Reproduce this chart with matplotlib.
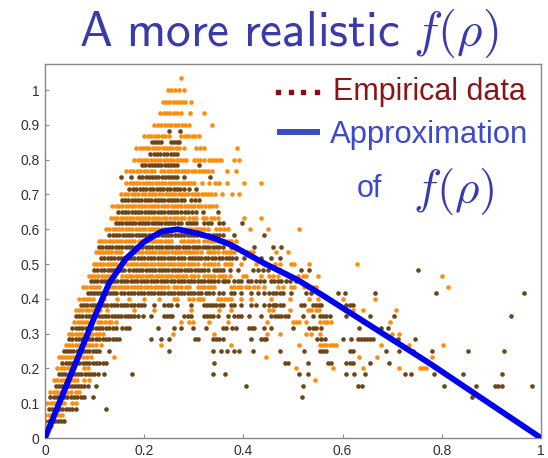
import numpy as np
import matplotlib
matplotlib.use("Agg")
import matplotlib.pyplot as plt
from matplotlib.lines import Line2D

plt.rcParams['mathtext.fontset'] = 'cm'
plt.rcParams['font.family'] = ['Liberation Sans', 'DejaVu Sans']

# ---------------- data ----------------
# Row levels: orange rows at y = k/30, brown rows at y = (k+0.5)/30
STEP = 1 / 150.0  # spacing of density samples inside a dense run

ORANGE_RUNS = {
    29: [(0.238, 0.283)],
    28: [(0.232, 0.267)],
    27: [(0.22, 0.29)],
    26: [(0.2, 0.25), (0.275, 0.31)],
    25: [(0.184, 0.27), (0.305, 0.32)],
    24: [(0.18, 0.285), (0.3, 0.32), (0.33, 0.355)],
    23: [(0.164, 0.22), (0.234, 0.31), (0.317, 0.328)],
    22: [(0.164, 0.295)],
    21: [(0.154, 0.25), (0.256, 0.342)],
    20: [(0.136, 0.308), (0.315, 0.345)],
    19: [(0.133, 0.23), (0.237, 0.26), (0.267, 0.281), (0.291, 0.304), (0.318, 0.325), (0.335, 0.348)],
    18: [(0.123, 0.328), (0.345, 0.368)],
    17: [(0.109, 0.18), (0.19, 0.254), (0.274, 0.308), (0.321, 0.348), (0.358, 0.375)],
    16: [(0.102, 0.153), (0.183, 0.314), (0.328, 0.348), (0.358, 0.382), (0.402, 0.419)],
    15: [(0.099, 0.143), (0.166, 0.308), (0.321, 0.348), (0.362, 0.375)],
    14: [(0.089, 0.133), (0.156, 0.284), (0.294, 0.308), (0.321, 0.341), (0.351, 0.362)],
    13: [(0.077, 0.109), (0.129, 0.247), (0.308, 0.341), (0.375, 0.395)],
    12: [(0.069, 0.096)],
    11: [(0.062, 0.096)],
    10: [(0.059, 0.092), (0.106, 0.129), (0.5, 0.513), (0.554, 0.577)],
    9: [(0.048, 0.109)],
    8: [(0.042, 0.102), (0.554, 0.587)],
    7: [(0.028, 0.065), (0.069, 0.092)],
    6: [(0.025, 0.059), (0.079, 0.086)],
    5: [(0.018, 0.052), (0.059, 0.065), (0.079, 0.089)],
    4: [(0.011, 0.045)],
    3: [(0.005, 0.038)],
    2: [(0.001, 0.035)],
    1: [(0.0, 0.012)],
}

ORANGE_DOTS = {
    31: [0.275],
    30: [0.248, 0.255, 0.263, 0.270, 0.281],
    29: [0.295],
    28: [0.275, 0.292, 0.32],
    27: [0.337],
    25: [0.28, 0.388],
    24: [0.382, 0.392],
    23: [0.336, 0.366, 0.386],
    22: [0.3, 0.317, 0.33, 0.343, 0.35, 0.366, 0.402, 0.436],
    21: [0.357, 0.378, 0.392],
    19: [0.402, 0.436],
    18: [0.414, 0.45, 0.513],
    17: [0.385],
    16: [0.465, 0.489],
    15: [0.395, 0.426, 0.442, 0.463, 0.473, 0.496, 0.503, 0.533, 0.629],
    14: [0.372, 0.399, 0.405, 0.436, 0.452, 0.459, 0.469, 0.49, 0.51, 0.52, 0.527, 0.55, 0.8],
    13: [0.261, 0.267, 0.274, 0.284, 0.291, 0.405, 0.412, 0.422, 0.429, 0.442, 0.47, 0.48,
         0.496, 0.503, 0.523, 0.53, 0.54, 0.547, 0.812],
    12: [0.116, 0.119, 0.146, 0.17, 0.2, 0.23, 0.261, 0.267, 0.291, 0.298, 0.308, 0.313, 0.318,
         0.348, 0.355, 0.362, 0.368, 0.375, 0.395, 0.415, 0.456, 0.493, 0.533, 0.55, 0.601, 0.665],
    11: [0.11, 0.125, 0.18, 0.22, 0.294, 0.351, 0.375, 0.4525, 0.46, 0.493, 0.53, 0.537, 0.547,
         0.553, 0.604, 0.621, 0.641, 0.708],
    10: [0.133, 0.143, 0.274, 0.291, 0.298, 0.331, 0.368, 0.448, 0.527, 0.641, 0.695],
    9: [0.116, 0.259, 0.34, 0.448, 0.473, 0.527, 0.537, 0.554, 0.7, 0.714],
    8: [0.113, 0.234, 0.375, 0.513, 0.677, 0.734, 0.803],
    7: [0.139, 0.446, 0.634, 0.669, 0.781],
    6: [0.506, 0.58, 0.641, 0.714, 0.757, 0.763, 0.768],
    5: [0.545],
    4: [0.052, 0.062, 0.069],
    3: [0.055, 0.062],
}

BROWN_RUNS = {
    25: [(0.216, 0.234), (0.254, 0.271)],
    24: [(0.212, 0.267)],
    23: [(0.196, 0.267)],
    22: [(0.19, 0.267)],
    21: [(0.17, 0.28)],
    20: [(0.155, 0.28), (0.295, 0.31)],
    19: [(0.148, 0.267), (0.274, 0.304)],
    18: [(0.143, 0.274), (0.287, 0.304), (0.321, 0.335), (0.351, 0.358)],
    17: [(0.13, 0.314), (0.331, 0.358)],
    16: [(0.109, 0.358), (0.375, 0.385)],
    15: [(0.113, 0.281), (0.291, 0.308), (0.315, 0.385)],
    14: [(0.099, 0.16), (0.17, 0.308), (0.315, 0.328), (0.341, 0.358)],
    13: [(0.092, 0.348), (0.358, 0.368), (0.382, 0.395), (0.426, 0.442), (0.455, 0.476)],
    12: [(0.086, 0.143), (0.153, 0.254), (0.261, 0.294), (0.301, 0.314), (0.325, 0.338),
         (0.351, 0.358), (0.375, 0.382), (0.4525, 0.473)],
    11: [(0.072, 0.2), (0.24, 0.254), (0.321, 0.358), (0.4525, 0.48)],
    10: [(0.062, 0.187), (0.24, 0.257), (0.281, 0.294), (0.321, 0.338), (0.382, 0.395),
         (0.456, 0.49), (0.554, 0.574)],
    9: [(0.055, 0.143), (0.156, 0.17), (0.358, 0.365), (0.378, 0.385), (0.412, 0.422), (0.533, 0.547)],
    8: [(0.048, 0.15), (0.302, 0.308), (0.338, 0.358), (0.436, 0.446), (0.549, 0.564), (0.631, 0.661)],
    7: [(0.038, 0.109), (0.554, 0.567), (0.614, 0.621)],
    6: [(0.035, 0.123), (0.483, 0.49), (0.57, 0.577), (0.607, 0.621)],
    5: [(0.028, 0.106)],
    4: [(0.022, 0.086), (0.631, 0.64), (0.907, 0.921)],
    3: [(0.011, 0.079)],
    2: [(0.008, 0.062)],
    1: [(0.001, 0.038)],
    0: [(0.0, 0.005)],
}

BROWN_DOTS = {
    26: [0.25, 0.273],
    23: [0.31],
    22: [0.154, 0.174, 0.28, 0.333],
    21: [0.29, 0.305],
    19: [0.318, 0.348],
    18: [0.397],
    17: [0.382, 0.442],
    16: [0.422, 0.459, 0.476],
    15: [0.402, 0.436, 0.456, 0.473],
    14: [0.372, 0.389, 0.419, 0.429, 0.439, 0.449, 0.473, 0.516, 0.533, 0.752],
    13: [0.409, 0.415, 0.486, 0.493, 0.506],
    12: [0.395, 0.415, 0.429, 0.442, 0.48, 0.496, 0.527, 0.537, 0.553, 0.591, 0.604, 0.665, 0.789, 0.966],
    11: [0.22, 0.267, 0.294, 0.375, 0.382, 0.395, 0.415, 0.426, 0.442, 0.463, 0.516, 0.523, 0.54,
         0.547, 0.553, 0.557, 0.607, 0.614, 0.621],
    10: [0.197, 0.213, 0.348, 0.368, 0.412, 0.436, 0.52, 0.54, 0.607, 0.655, 0.703, 0.94],
    9: [0.227, 0.261, 0.274, 0.298, 0.325, 0.442, 0.456, 0.5, 0.557, 0.634, 0.678, 0.692],
    8: [0.213, 0.234, 0.25, 0.415, 0.601, 0.617, 0.712, 0.745],
    7: [0.129, 0.25, 0.338, 0.354, 0.366, 0.382, 0.392, 0.419, 0.473, 0.523, 0.688, 0.713, 0.741,
        0.781, 0.853, 0.926],
    6: [0.34, 0.53, 0.656, 0.693],
    5: [0.119, 0.176, 0.338, 0.362, 0.513, 0.531, 0.607, 0.623, 0.646, 0.725, 0.737, 0.784, 0.843, 0.922],
    4: [0.102, 0.405, 0.52, 0.805, 0.869, 0.981],
    3: [0.096, 0.518, 0.86],
    2: [0.123],
}

# Approximation curve f(rho)
CURVE_RHO = [0, 0.02, 0.042, 0.069, 0.099, 0.129, 0.163, 0.2, 0.234, 0.267, 0.308, 0.341,
             0.375, 0.409, 0.442, 0.51, 0.56, 0.776, 1.0]
CURVE_F = [0, 0.07, 0.147, 0.24, 0.345, 0.444, 0.515, 0.564, 0.593, 0.60, 0.588, 0.574,
           0.555, 0.528, 0.502, 0.454, 0.41, 0.214, 0]

X_TICKS = [0, 0.2, 0.4, 0.6, 0.8, 1]
X_LABELS = ['0', '0.2', '0.4', '0.6', '0.8', '1']
Y_TICKS = [0, 0.1, 0.2, 0.3, 0.4, 0.5, 0.6, 0.7, 0.8, 0.9, 1]
Y_LABELS = ['0', '0.1', '0.2', '0.3', '0.4', '0.5', '0.6', '0.7', '0.8', '0.9', '1']


def expand(runs, dots, offset):
    xs, ys = [], []
    for k, segs in runs.items():
        y = (k + offset) / 30.0
        for a, b in segs:
            n = max(1, int(round((b - a) / STEP)) + 1)
            xs.extend(np.linspace(a, b, n))
            ys.extend([y] * n)
    for k, pts in dots.items():
        y = (k + offset) / 30.0
        xs.extend(pts)
        ys.extend([y] * len(pts))
    return np.array(xs), np.array(ys)


ox, oy = expand(ORANGE_RUNS, ORANGE_DOTS, 0.0)
bx, by = expand(BROWN_RUNS, BROWN_DOTS, 0.5)

# ---------------- figure ----------------
W, H = 548, 458
fig = plt.figure(figsize=(W / 100, H / 100), dpi=100)
ax = fig.add_axes([45 / W, 20 / H, (541 - 45) / W, (438 - 64) / H])

ax.scatter(ox, oy, s=11, color='#ff8c0a', linewidths=0, zorder=2)
ax.scatter(bx, by, s=11, color='#6e4516', linewidths=0, zorder=2)
ax.plot(CURVE_RHO, CURVE_F, color='#0000f0', lw=4.2, solid_capstyle='butt', zorder=3)

ax.set_xlim(0, 1)
ax.set_ylim(0, 1.075)
ax.set_xticks(X_TICKS)
ax.set_xticklabels(X_LABELS)
ax.set_yticks(Y_TICKS)
ax.set_yticklabels(Y_LABELS)
ax.tick_params(direction='in', length=3, width=0.8, color='#888888', labelsize=10,
               labelcolor='#303030', pad=4)
for sp in ax.spines.values():
    sp.set_color('#888888')
    sp.set_linewidth(1.0)

# ---------------- title & legend overlay ----------------
fig.text(289 / W, 1 - 46 / H, r'$\mathsf{A\ more\ realistic}\ f(\rho)$', ha='center',
         va='baseline', fontsize=35.5, color='#3a3aaa')

for px in (278, 291, 303, 317):
    fig.lines.append(Line2D([px / W], [1 - 92 / H], transform=fig.transFigure, marker='s',
                            markersize=3.2, color='#8b0a1a', linestyle='none'))
fig.lines.append(Line2D([277 / W, 320 / W], [1 - 131.5 / H, 1 - 131.5 / H],
                        transform=fig.transFigure, color='#3b4cc8', lw=4.3,
                        solid_capstyle='butt'))

fig.text(333 / W, 1 - 100 / H, 'Empirical data', fontsize=22, color='#8b1515',
         va='baseline', ha='left')
fig.text(330 / W, 1 - 143 / H, 'Approximation', fontsize=22.3, color='#3d4acd',
         va='baseline', ha='left')
fig.text(357 / W, 1 - 196.7 / H, 'of', fontsize=22, color='#3d4acd',
         va='baseline', ha='left')
fig.text(413 / W, 1 - 203 / H, r'$f(\rho)$', fontsize=34, color='#3a3ab0',
         va='baseline', ha='left')

fig.savefig('out.png', dpi=100)
